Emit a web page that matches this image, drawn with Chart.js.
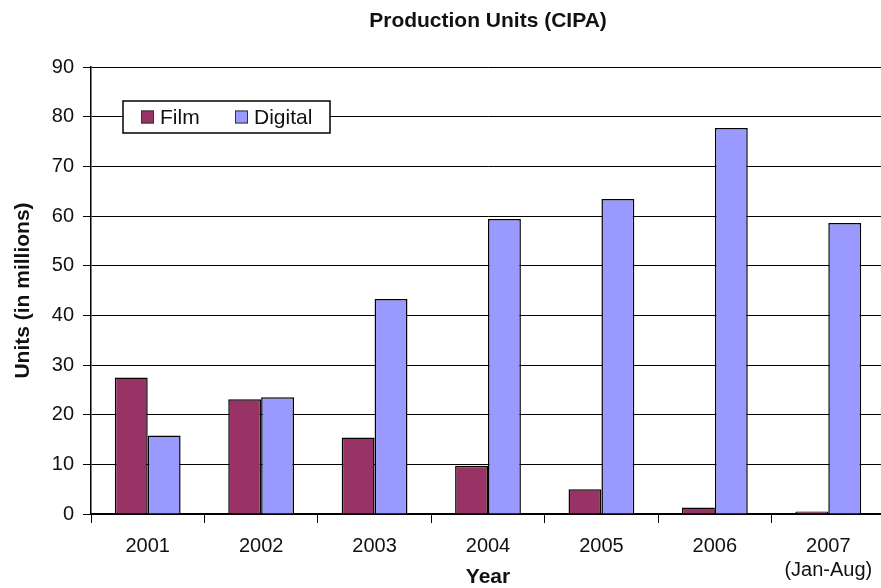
<!DOCTYPE html>
<html>
<head>
<meta charset="utf-8">
<script src="https://cdn.jsdelivr.net/npm/chart.js@4.4.1/dist/chart.umd.min.js"></script>
<style>
  html, body { margin: 0; padding: 0; background: #fff; overflow: hidden; }
  #wrap { width: 881px; height: 588px; position: relative; overflow: hidden; }
  #c { position: absolute; left: 0; top: 0; }
</style>
</head>
<body>
<div id="wrap"><canvas id="c" width="885" height="588"></canvas></div>
<script>
const categories = ['2001', '2002', '2003', '2004', '2005', '2006', ['2007', '(Jan-Aug)']];
const filmUnits = [27.5, 23.1, 15.4, 9.7, 5.0, 1.3, 0.5];
const digitalUnits = [15.8, 23.5, 43.3, 59.4, 63.4, 77.7, 58.6];
const yMin = 0, yMax = 90, yStep = 10;
const seriesNames = ['Film', 'Digital'];
const seriesColors = ['#993366', '#9999FF'];

const FONT = '"Liberation Sans", Arial, Helvetica, sans-serif';
const TEXT = '#111';

const boxLegend = {
  id: 'boxLegend',
  afterDraw(chart) {
    const ctx = chart.ctx;
    const ca = chart.chartArea;
    const x0 = ca.left + 32, y0 = ca.top + 34, w = 207, h = 32;
    ctx.save();
    ctx.fillStyle = '#fff';
    ctx.fillRect(x0, y0, w, h);
    ctx.lineWidth = 1.5;
    ctx.strokeStyle = '#000';
    ctx.strokeRect(x0, y0, w, h);
    ctx.font = '21px ' + FONT;
    ctx.textBaseline = 'middle';
    ctx.textAlign = 'left';
    const cy = y0 + h / 2;
    const offsets = [18, 112];
    chart.data.datasets.forEach((ds, i) => {
      const sx = x0 + offsets[i];
      ctx.fillStyle = ds.backgroundColor;
      ctx.fillRect(sx, cy - 6.5, 13, 13);
      ctx.lineWidth = 1;
      ctx.strokeStyle = '#333';
      ctx.strokeRect(sx + 0.5, cy - 6, 12, 12);
      ctx.fillStyle = TEXT;
      ctx.fillText(ds.label, sx + 19, cy + 1);
    });
    ctx.restore();
  }
};

new Chart(document.getElementById('c'), {
  type: 'bar',
  data: {
    labels: categories,
    datasets: [
      { label: seriesNames[0], data: filmUnits, backgroundColor: seriesColors[0], borderColor: '#000', borderWidth: 1.5 },
      { label: seriesNames[1], data: digitalUnits, backgroundColor: seriesColors[1], borderColor: '#000', borderWidth: 1.5 }
    ]
  },
  options: {
    responsive: false,
    animation: false,
    layout: { padding: { left: 0, right: 0, top: 0, bottom: 0 } },
    datasets: { bar: { categoryPercentage: 0.58, barPercentage: 1.0 } },
    plugins: {
      legend: { display: false },
      tooltip: { enabled: false },
      title: {
        display: true,
        text: 'Production Units (CIPA)',
        color: TEXT,
        fullSize: false,
        font: { family: FONT, size: 21, weight: 'bold', lineHeight: 1 },
        padding: { top: 11, bottom: 35 }
      }
    },
    scales: {
      x: {
        offset: true,
        afterFit(s) { s.height = 74; },
        grid: { display: true, drawOnChartArea: false, drawTicks: true, tickLength: 9, color: '#000', lineWidth: 1, offset: true },
        border: { display: true, color: '#000', width: 1.5 },
        ticks: { color: TEXT, font: { family: FONT, size: 20, lineHeight: 1.2 }, padding: 11, autoSkip: false, maxRotation: 0 },
        title: { display: true, text: 'Year', color: TEXT, font: { family: FONT, size: 21, weight: 'bold', lineHeight: 1 }, padding: { top: 0, bottom: 0 } }
      },
      y: {
        min: yMin, max: yMax,
        afterFit(s) { s.width = 91; },
        grid: { color: '#000', lineWidth: 1, tickLength: 8, drawTicks: true },
        border: { display: true, color: '#000', width: 1.5 },
        ticks: { stepSize: yStep, color: TEXT, font: { family: FONT, size: 20 }, padding: 9 },
        title: { display: true, text: 'Units (in millions)', color: TEXT, font: { family: FONT, size: 21, weight: 'bold', lineHeight: 1 }, padding: { top: 12.5, bottom: 0 } }
      }
    }
  },
  plugins: [boxLegend]
});
</script>
</body>
</html>
